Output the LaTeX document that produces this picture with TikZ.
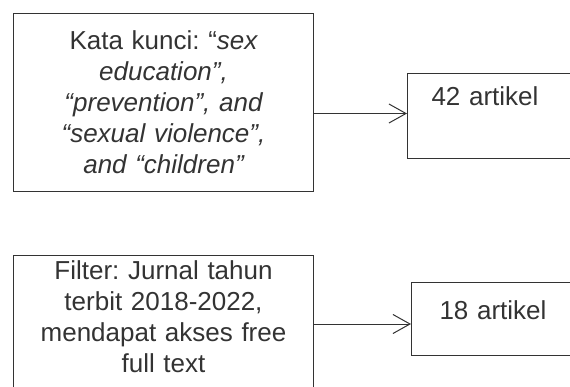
\documentclass[tikz,border=0pt]{standalone}
\usepackage{fontspec}
\setmainfont{Liberation Sans}
\frenchspacing
\usepackage{tikz}
\usetikzlibrary{arrows.meta,positioning}

\begin{document}
\begin{tikzpicture}[
  x=1pt, y=-1pt,
  every node/.style={font=\fontsize{26}{31}\selectfont},
  box/.style={draw=black!80, line width=1pt, align=center, text width=280pt,
    inner xsep=10pt, inner ysep=0pt},
  count/.style={box, align=left, text width=152pt, inner xsep=24pt,
    inner ysep=13pt},
  >={Straight Barb[length=17pt,width=19pt]}, line width=1pt, black!80
]
\path[use as bounding box, clip] (0,0) rectangle (570,387);

\node[box, anchor=north west, minimum height=178pt] (kunci) at (13,13)
  {Kata kunci: “\itshape sex\\education”,\\“prevention”, and\\“sexual violence”,\\and “children”};
\node[count, right=93pt of kunci.east, yshift=-13.5pt,
  text height=19pt, text depth=40pt] (artikel1) {42 artikel};

\node[box, below=63pt of kunci, inner ysep=5pt, text height=19pt,
  text depth=150pt] (filter)
  {Filter: Jurnal tahun\\terbit 2018-2022,\\mendapat akses free\\full text};
\node[count, anchor=west, text width=148pt, inner xsep=28pt,
  text height=23pt, text depth=23pt] (artikel2) at (411,319) {18 artikel};

\coordinate[yshift=2.5pt] (in1) at (artikel1.west);
\coordinate[yshift=-5pt] (in2) at (artikel2.west);
\draw[->] (kunci.east |- in1) -- (in1);
\draw[->] (filter.east |- in2) -- (in2);
\end{tikzpicture}
\end{document}
